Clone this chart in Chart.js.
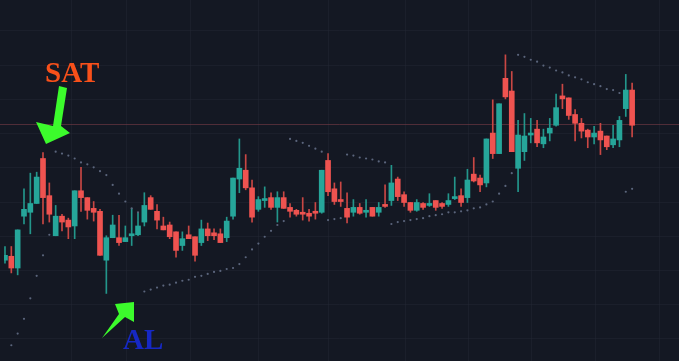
<!DOCTYPE html>
<html>
<head>
<meta charset="utf-8">
<script src="https://cdn.jsdelivr.net/npm/chart.js@4"></script>
<style>
html,body{margin:0;padding:0;background:#141823;}
canvas{display:block;}
</style>
</head>
<body>
<canvas id="c" width="679" height="361"></canvas>
<script>
// Candle data (price units)
const openP  = [99,103,91,144,148,157,203,165,124,144,140,134,170,163,152,149,99,122,122,118,124,125,138,163,149,134,135,128,114,125,123,117,131,127,126,122,144,182,191,173,151,160,163,153,163,153,150,148,147,148,148,201,172,161,152,148,153,148,153,148,156,160,182,166,158,150,157,155,160,157,156,162,165,163,187,183,178,229,208,285,272,193,210,227,233,218,229,237,267,265,248,239,232,225,231,226,217,222,254,273];
const highP  = [113,113,130,172,188,189,209,178,155,146,142,170,194,163,159,151,124,145,145,134,152,148,168,165,156,143,138,128,128,134,123,140,137,131,131,143,183,223,207,181,164,174,168,169,169,157,151,163,151,158,191,208,178,179,168,161,157,161,153,158,176,196,184,169,158,161,158,167,160,158,167,184,172,192,204,186,223,263,259,309,292,242,249,244,242,233,244,269,279,265,253,244,233,236,239,226,237,246,289,280];
const lowP   = [96,86,84,136,126,157,136,138,124,129,121,121,149,141,139,104,65,122,114,118,114,124,134,151,131,130,121,102,109,121,98,114,119,120,117,118,141,168,171,138,149,153,151,138,152,143,144,140,139,141,147,165,156,154,137,144,146,143,144,144,153,155,160,154,148,149,151,154,150,152,154,161,154,158,179,169,174,203,208,264,210,169,201,219,215,214,221,236,254,243,221,224,214,218,207,212,214,215,246,225];
const closeP = [104,91,130,151,157,184,163,146,144,138,133,170,163,150,148,104,122,135,117,122,126,134,155,151,140,130,123,109,121,121,104,131,124,124,117,139,183,193,173,143,161,161,153,163,152,149,146,146,144,147,191,169,159,159,143,153,147,149,144,153,154,178,164,158,150,158,153,157,153,154,160,164,158,181,180,176,223,208,259,266,210,227,226,229,219,225,234,255,264,247,239,231,225,229,222,215,223,242,273,237];
// Parabolic SAR dots (null = not visible)
const sarP = [null,12,24,39,60,83,104,125,210,208,206,203,199,197,194,190,186,176,167,159,152,148,67,69,71,73,74,76,78,79,82,83,85,87,88,90,91,95,102,110,116,123,129,135,139,223,221,219,216,213,210,140,141,142,207,206,204,203,202,200,199,136,138,139,140,141,142,144,145,146,148,148,149,150,152,153,156,159,167,175,188,309,307,304,302,298,296,293,291,288,286,284,281,279,277,274,273,270,169,172];
const refLine = 238;                 // horizontal marker line price
const priceGrid = [334,299,264,229,194,159,124,89,54,19];
const timeGrid = [10.45,19.03,29.17,39.94,51.0,63.18,73.17,83.0,93.14,103.28];

const UP = '#26a69a', DOWN = '#ef5350';
const UPW = '#23968b', DOWNW = '#c94744';
const idx = openP.map((_, i) => i);
const isUp = idx.map(i => closeP[i] >= openP[i]);

const decor = {
  id: 'decor',
  beforeDraw(chart) {
    const {ctx, width, height, scales: {x, y}} = chart;
    ctx.save();
    ctx.fillStyle = '#141823';
    ctx.fillRect(0, 0, width, height);
    ctx.strokeStyle = 'rgba(38,43,56,0.4)';
    ctx.lineWidth = 1;
    priceGrid.forEach(p => {
      const py = Math.round(y.getPixelForValue(p)) + 0.5;
      ctx.beginPath(); ctx.moveTo(0, py); ctx.lineTo(width, py); ctx.stroke();
    });
    timeGrid.forEach(t => {
      const px = Math.round(x.getPixelForValue(t)) + 0.5;
      ctx.beginPath(); ctx.moveTo(px, 0); ctx.lineTo(px, height); ctx.stroke();
    });
    const ry = Math.round(y.getPixelForValue(refLine)) + 0.5;
    ctx.strokeStyle = 'rgba(120,60,70,0.6)';
    ctx.beginPath(); ctx.moveTo(0, ry); ctx.lineTo(width, ry); ctx.stroke();
    ctx.restore();
  },
  afterDraw(chart) {
    const {ctx} = chart;
    ctx.save();
    ctx.fillStyle = '#3cfb2c';
    // SAT arrow (down-left)
    ctx.beginPath();
    [[59,86],[67,88],[61,126],[70,133],[46,144],[36,122],[53,126]].forEach((p,k)=>k?ctx.lineTo(p[0],p[1]):ctx.moveTo(p[0],p[1]));
    ctx.closePath(); ctx.fill();
    // AL arrow (up-right)
    ctx.beginPath();
    [[102,338],[119,314],[115,304],[134,302],[134,322],[125,317]].forEach((p,k)=>k?ctx.lineTo(p[0],p[1]):ctx.moveTo(p[0],p[1]));
    ctx.closePath(); ctx.fill();
    ctx.font = 'bold 29px "Liberation Serif", "DejaVu Serif", serif';
    ctx.textBaseline = 'alphabetic';
    ctx.fillStyle = '#f8501a';
    ctx.fillText('SAT', 45, 82);
    ctx.fillStyle = '#1628c4';
    ctx.fillText('AL', 123, 349);
    ctx.restore();
  }
};

new Chart(document.getElementById('c'), {
  type: 'bar',
  data: {
    datasets: [
      {
        label: 'wick',
        data: idx.map(i => ({x: i, y: [lowP[i], highP[i]]})),
        backgroundColor: idx.map(i => isUp[i] ? UPW : DOWNW),
        barThickness: 1,
        grouped: false,
        borderWidth: 0,
        order: 3
      },
      {
        label: 'body',
        data: idx.map(i => ({x: i, y: [openP[i], closeP[i]]})),
        backgroundColor: idx.map(i => isUp[i] ? UP : DOWN),
        barThickness: 5,
        minBarLength: 2,
        grouped: false,
        borderWidth: 0,
        order: 2
      },
      {
        type: 'scatter',
        label: 'SAR',
        data: idx.filter(i => sarP[i] !== null).map(i => ({x: i, y: sarP[i]})),
        backgroundColor: '#5b657c',
        borderWidth: 0,
        pointRadius: 1.1,
        order: 1
      }
    ]
  },
  options: {
    responsive: false,
    animation: false,
    devicePixelRatio: 1,
    layout: {padding: 0},
    scales: {
      x: {type: 'linear', min: -0.156, max: 105.77, offset: false, display: false},
      y: {type: 'linear', min: 0, max: 361, display: false}
    },
    plugins: {legend: {display: false}, tooltip: {enabled: false}}
  },
  plugins: [decor]
});
</script>
</body>
</html>
